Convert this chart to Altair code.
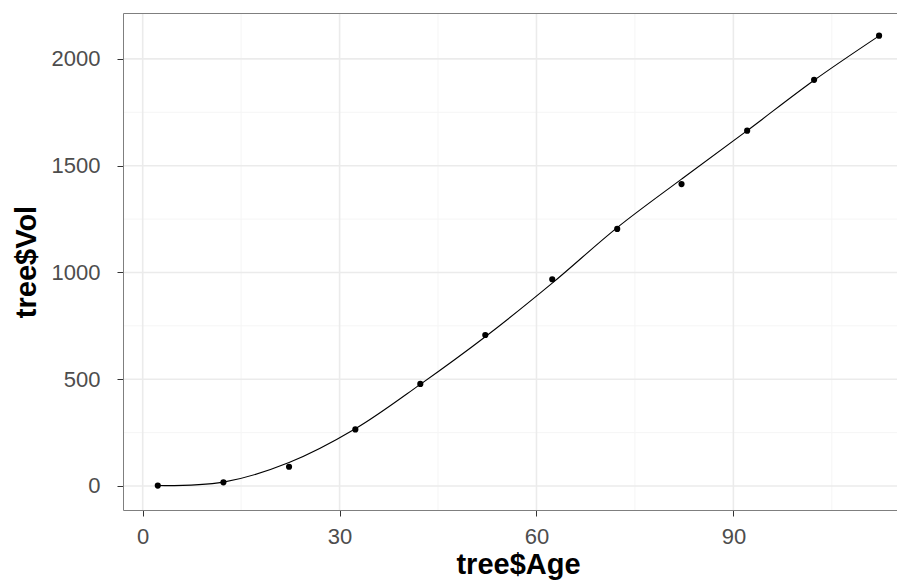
import altair as alt
import pandas as pd

# Data
age = [2.3, 12.3, 22.3, 32.4, 42.3, 52.2, 62.4, 72.3, 82.1, 92.1, 102.3, 112.2]
vol = [2, 17, 90, 265, 478, 707, 968, 1204, 1414, 1664, 1902, 2109]
# smoothed (loess) curve, read at the same ages
smooth = [2, 18, 110, 268, 476, 699, 950, 1210, 1437, 1664, 1900, 2108]

x_major = [0, 30, 60, 90]
x_minor = [15, 45, 75, 105]
y_major = [0, 500, 1000, 1500, 2000]
y_minor = [250, 750, 1250, 1750]

x_domain = [-3.0, 114.93]
y_domain = [-112.4, 2215]

FONT = "Liberation Sans"

df = pd.DataFrame({"age": age, "vol": vol})
df_s = pd.DataFrame({"age": age, "smooth": smooth})

xs = alt.Scale(domain=x_domain, nice=False, zero=False)
ys = alt.Scale(domain=y_domain, nice=False, zero=False)

minor_x = alt.Chart(pd.DataFrame({"v": x_minor})).mark_rule(
    color="#F5F5F5", strokeWidth=1
).encode(x=alt.X("v:Q", scale=xs, axis=None))
minor_y = alt.Chart(pd.DataFrame({"v": y_minor})).mark_rule(
    color="#F5F5F5", strokeWidth=1
).encode(y=alt.Y("v:Q", scale=ys, axis=None))
major_x = alt.Chart(pd.DataFrame({"v": x_major})).mark_rule(
    color="#EBEBEB", strokeWidth=1.6
).encode(x=alt.X("v:Q", scale=xs, axis=None))
major_y = alt.Chart(pd.DataFrame({"v": y_major})).mark_rule(
    color="#EBEBEB", strokeWidth=1.6
).encode(y=alt.Y("v:Q", scale=ys, axis=None))

points = alt.Chart(df).mark_circle(size=38, color="black", opacity=1).encode(
    x=alt.X(
        "age:Q",
        scale=xs,
        axis=alt.Axis(
            values=x_major,
            format="d",
            grid=False,
            title="tree$Age",
            titleFont=FONT,
            titleFontSize=29,
            titleFontWeight="bold",
            titleColor="black",
            titleBaseline="alphabetic",
            titleX=395,
            titleY=63,
            labelFont=FONT,
            labelFontSize=22,
            labelColor="#4D4D4D",
            labelBaseline="alphabetic",
            labelPadding=27,
            tickSize=6,
            tickColor="#333333",
            domainColor="#7F7F7F",
            domainWidth=1,
            zindex=1,
        ),
    ),
    y=alt.Y(
        "vol:Q",
        scale=ys,
        axis=alt.Axis(
            values=y_major,
            format="d",
            grid=False,
            title="tree$Vol",
            titleFont=FONT,
            titleFontSize=29,
            titleFontWeight="bold",
            titleColor="black",
            titleBaseline="alphabetic",
            titleX=-88,
            labelFont=FONT,
            labelFontSize=22,
            labelColor="#4D4D4D",
            labelPadding=17,
            tickSize=6,
            tickColor="#333333",
            domainColor="#7F7F7F",
            domainWidth=1,
            zindex=1,
        ),
    ),
)

line = alt.Chart(df_s).mark_line(color="black", strokeWidth=1.1, interpolate="catmull-rom").encode(
    x=alt.X(
        "age:Q",
        scale=xs,
        axis=alt.Axis(
            orient="top",
            labels=False,
            ticks=False,
            grid=False,
            title=None,
            domainColor="#7F7F7F",
            domainWidth=1,
            zindex=1,
        ),
    ),
    y=alt.Y("smooth:Q", scale=ys, axis=None),
)

chart = (
    alt.layer(minor_x, minor_y, major_x, major_y, points, line)
    .resolve_axis(x="independent", y="independent")
    .properties(
        width=774,
        height=497,
        autosize=alt.AutoSizeParams(type="none"),
        padding={"left": 115, "top": 5, "right": 0, "bottom": 70},
        background="white",
    )
    .configure_view(stroke=None)
)

chart.save("out.html", embed_options={"renderer": "svg", "actions": False})
